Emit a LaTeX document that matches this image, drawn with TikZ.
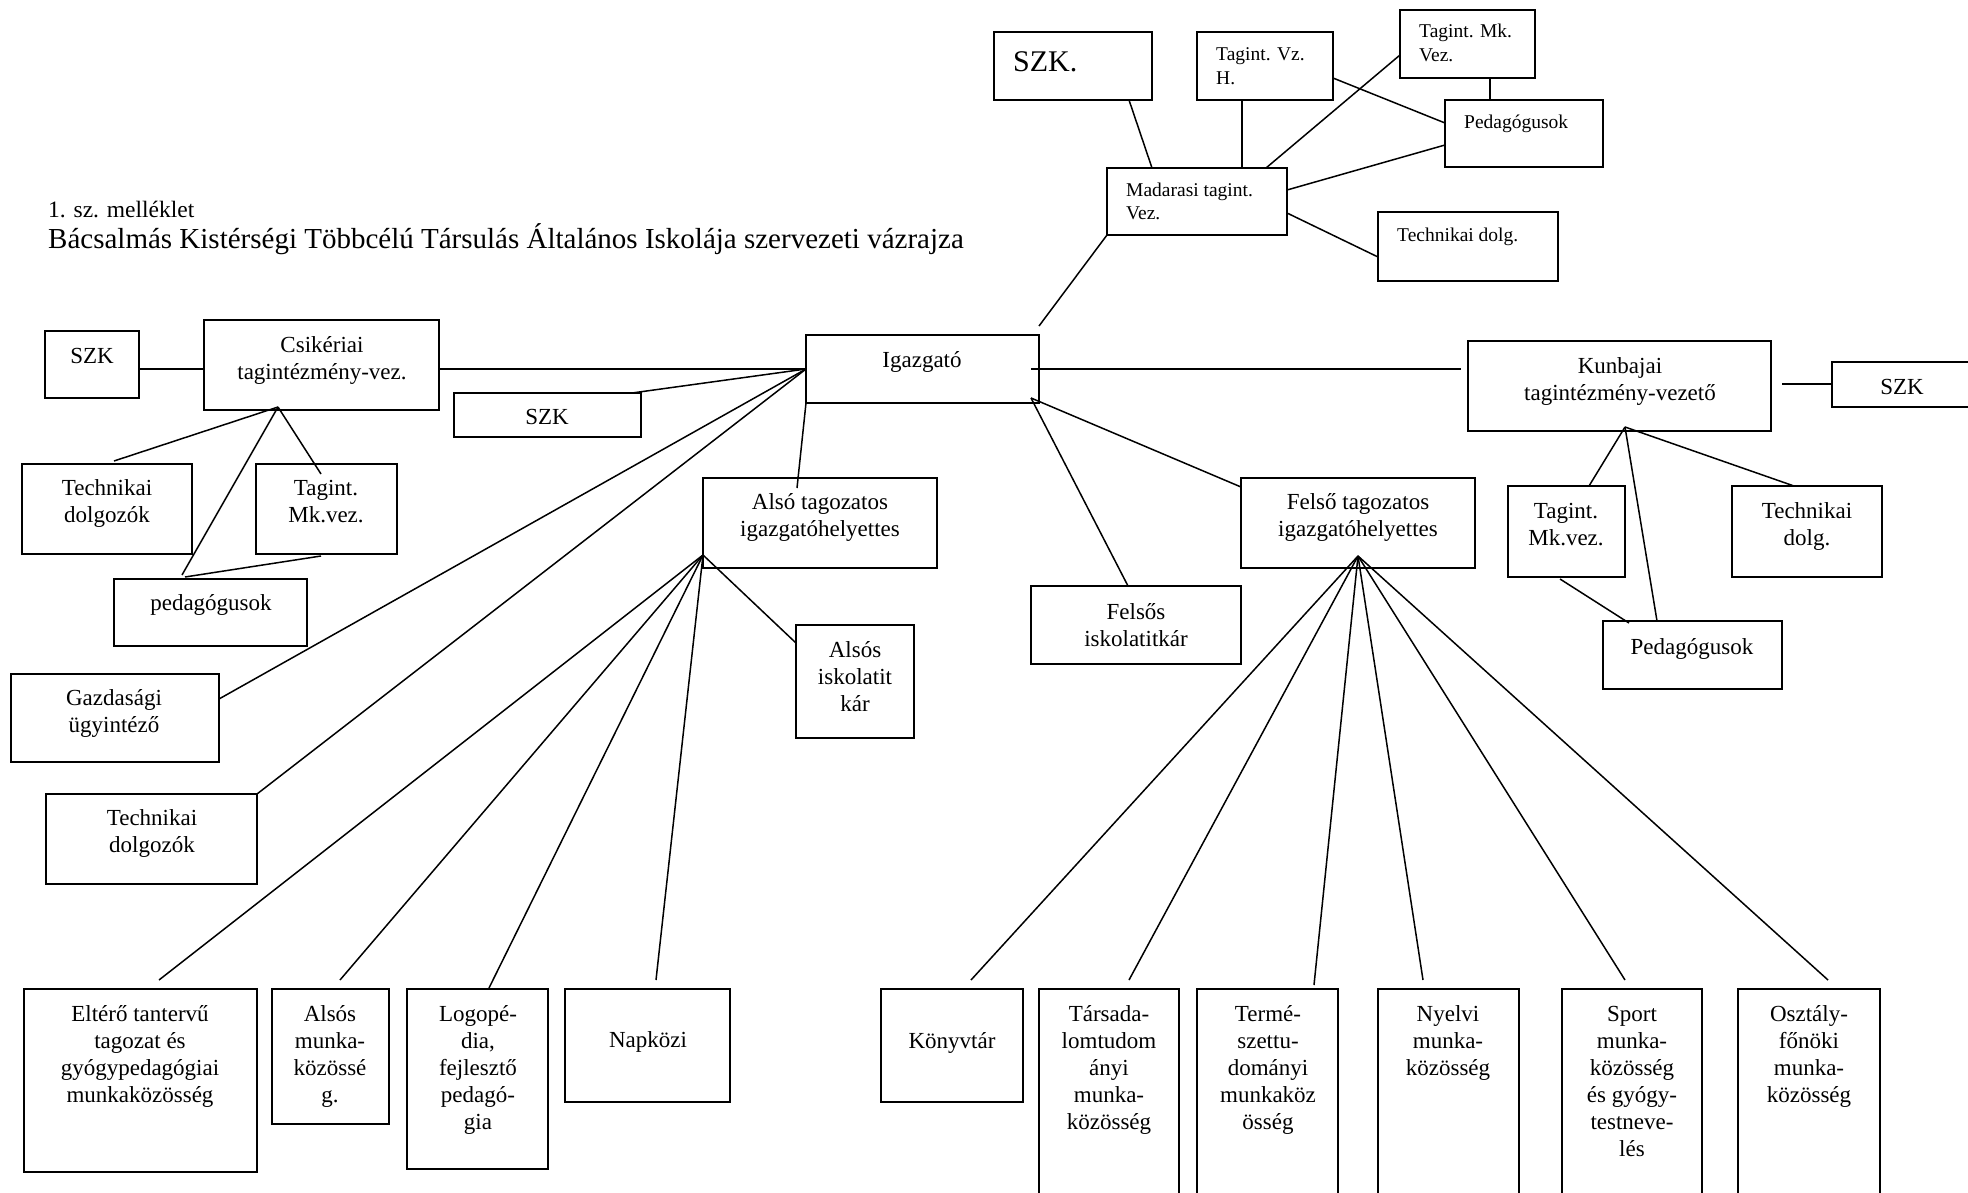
\documentclass[tikz,border=0pt]{standalone}
\usepackage{fontspec}
\setmainfont{Liberation Serif}
\newcommand\fmain{\fontsize{23}{27}\selectfont}
\newcommand\fsmall{\fontsize{19.5}{24}\selectfont}
\begin{document}
\begin{tikzpicture}[x=1pt,y=-1pt,
  bx/.style={draw, line width=2pt, inner sep=0pt, outer sep=0pt, anchor=north west},
  tm/.style={font=\fmain, align=center, inner sep=0pt, anchor=north},
  tsm/.style={font=\fsmall, align=left, inner sep=0pt, anchor=north west},
  ln/.style={line width=1.5pt}]
\useasboundingbox (0,0) rectangle (1968,1193);
\clip (0,0) rectangle (1968,1193);
% title
\node[font=\fontsize{23.5}{27}\selectfont, inner sep=0pt, anchor=base west] (sub) at (48,218) {1. sz. melléklet};
\node[font=\fontsize{29}{34}\selectfont, inner sep=0pt, anchor=base west] (title) at (48,248) {Bácsalmás Kistérségi Többcélú Társulás Általános Iskolája szervezeti vázrajza};
% boxes
\node[bx, minimum width=158pt, minimum height=68pt] (szkT) at (994,32) {};
\node[bx, minimum width=136pt, minimum height=68pt] (vzh) at (1197,32) {};
\node[bx, minimum width=135pt, minimum height=68pt] (mkv) at (1400,10) {};
\node[bx, minimum width=158pt, minimum height=67pt] (pedT) at (1445,100) {};
\node[bx, minimum width=180pt, minimum height=67pt] (mad) at (1107,168) {};
\node[bx, minimum width=180pt, minimum height=69pt] (techT) at (1378,212) {};
\node[bx, minimum width=94pt, minimum height=67pt] (szkL) at (45,331) {};
\node[bx, minimum width=235pt, minimum height=90pt] (csik) at (204,320) {};
\node[bx, minimum width=187pt, minimum height=44pt] (szkM) at (454,393) {};
\node[bx, minimum width=233pt, minimum height=68pt] (igz) at (806,335) {};
\node[bx, minimum width=303pt, minimum height=90pt] (kun) at (1468,341) {};
\node[bx, minimum width=200pt, minimum height=45pt] (szkR) at (1832,362) {};
\node[bx, minimum width=170pt, minimum height=90pt] (techC) at (22,464) {};
\node[bx, minimum width=141pt, minimum height=90pt] (mkC) at (256,464) {};
\node[bx, minimum width=193pt, minimum height=67pt] (pedC) at (114,579) {};
\node[bx, minimum width=208pt, minimum height=88pt] (gazd) at (11,674) {};
\node[bx, minimum width=211pt, minimum height=90pt] (techL) at (46,794) {};
\node[bx, minimum width=234pt, minimum height=90pt] (also) at (703,478) {};
\node[bx, minimum width=118pt, minimum height=113pt] (alsIsk) at (796,625) {};
\node[bx, minimum width=234pt, minimum height=90pt] (felso) at (1241,478) {};
\node[bx, minimum width=210pt, minimum height=78pt] (felsIsk) at (1031,586) {};
\node[bx, minimum width=117pt, minimum height=91pt] (mkK) at (1508,486) {};
\node[bx, minimum width=150pt, minimum height=91pt] (techK) at (1732,486) {};
\node[bx, minimum width=179pt, minimum height=68pt] (pedK) at (1603,621) {};
\node[bx, minimum width=233pt, minimum height=183pt] (elt) at (24,989) {};
\node[bx, minimum width=117pt, minimum height=135pt] (alsM) at (272,989) {};
\node[bx, minimum width=141pt, minimum height=180pt] (logo) at (407,989) {};
\node[bx, minimum width=165pt, minimum height=113pt] (napk) at (565,989) {};
\node[bx, minimum width=142pt, minimum height=113pt] (konyv) at (881,989) {};
\node[bx, minimum width=140pt, minimum height=250pt] (tars) at (1039,989) {};
\node[bx, minimum width=141pt, minimum height=250pt] (term) at (1197,989) {};
\node[bx, minimum width=141pt, minimum height=250pt] (nyelv) at (1378,989) {};
\node[bx, minimum width=140pt, minimum height=250pt] (sport) at (1562,989) {};
\node[bx, minimum width=142pt, minimum height=250pt] (oszt) at (1738,989) {};
% texts
\node[font=\fontsize{30}{34}\selectfont, inner sep=0pt, anchor=base west] (szkTt) at (1013,72) {SZK.};
\node[tsm] (vzht) at (1216,44) {\strut Tagint. Vz.\\\strut H.};
\node[tsm] (mkvt) at (1419,21) {\strut Tagint. Mk.\\\strut Vez.};
\node[tsm] (pedTt) at (1464,112) {\strut Pedagógusok};
\node[tsm] (madt) at (1126,179) {\strut Madarasi tagint.\\\strut Vez.};
\node[tsm] (techTt) at (1397,225) {\strut Technikai dolg.};
\node[tm] (csikt) at (322,333) {\strut Csikériai\\\strut tagintézmény-vez.};
\node[tm] (szkLt) at (92,344) {\strut SZK};
\node[tm] (szkMt) at (547,405) {\strut SZK};
\node[tm] (igzt) at (922,348) {\strut Igazgató};
\node[tm] (techCt) at (107,476) {\strut Technikai\\\strut dolgozók};
\node[tm] (mkCt) at (326,476) {\strut Tagint.\\\strut Mk.vez.};
\node[tm] (pedCt) at (211,591) {\strut pedagógusok};
\node[tm] (gazdt) at (114,686) {\strut Gazdasági\\\strut ügyintéző};
\node[tm] (techLt) at (152,806) {\strut Technikai\\\strut dolgozók};
\node[tm] (alsot) at (820,490) {\strut Alsó tagozatos\\\strut igazgatóhelyettes};
\node[tm] (alsIskt) at (855,638) {\strut Alsós\\\strut iskolatit\\\strut kár};
\node[tm] (felsot) at (1358,490) {\strut Felső tagozatos\\\strut igazgatóhelyettes};
\node[tm] (felsIskt) at (1136,600) {\strut Felsős\\\strut iskolatitkár};
\node[tm] (kunt) at (1620,354) {\strut Kunbajai\\\strut tagintézmény-vezető};
\node[tm] (szkRt) at (1902,375) {\strut SZK};
\node[tm] (mkKt) at (1566,499) {\strut Tagint.\\\strut Mk.vez.};
\node[tm] (techKt) at (1807,499) {\strut Technikai\\\strut dolg.};
\node[tm] (pedKt) at (1692,635) {\strut Pedagógusok};
\node[tm] (eltt) at (140,1002) {\strut Eltérő tantervű\\\strut tagozat és\\\strut gyógypedagógiai\\\strut munkaközösség};
\node[tm] (alsMt) at (330,1002) {\strut Alsós\\\strut munka-\\\strut közössé\\\strut g.};
\node[tm] (logot) at (478,1002) {\strut Logopé-\\\strut dia,\\\strut fejlesztő\\\strut pedagó-\\\strut gia};
\node[tm] (napkt) at (648,1028) {\strut Napközi};
\node[tm] (konyvt) at (952,1029) {\strut Könyvtár};
\node[tm] (tarst) at (1109,1002) {\strut Társada-\\\strut lomtudom\\\strut ányi\\\strut munka-\\\strut közösség};
\node[tm] (termt) at (1268,1002) {\strut Termé-\\\strut szettu-\\\strut dományi\\\strut munkaköz\\\strut össég};
\node[tm] (nyelvt) at (1448,1002) {\strut Nyelvi\\\strut munka-\\\strut közösség};
\node[tm] (sportt) at (1632,1002) {\strut Sport\\\strut munka-\\\strut közösség\\\strut és gyógy-\\\strut testneve-\\\strut lés};
\node[tm] (osztt) at (1809,1002) {\strut Osztály-\\\strut főnöki\\\strut munka-\\\strut közösség};
% connectors: top cluster
\draw[ln] ([shift={(135,0)}]szkT.south west) -- ([shift={(45,0)}]mad.north west);
\draw[ln] ([shift={(45,0)}]vzh.south west) -- ([shift={(135,0)}]mad.north west);
\draw[ln] ([shift={(159,0)}]mad.north west) -- ([shift={(0,45)}]mkv.north west);
\draw[ln] ([shift={(0,46)}]vzh.north east) -- ([shift={(0,23)}]pedT.north west);
\draw[ln] ([shift={(0,22)}]mad.north east) -- ([shift={(0,45)}]pedT.north west);
\draw[ln] ([shift={(0,45)}]mad.north east) -- ([shift={(0,45)}]techT.north west);
\draw[ln] ([shift={(90,0)}]mkv.south west) -- ([shift={(45,0)}]pedT.north west);
\draw[ln] (mad.south west) -- ([shift={(0,-9)}]igz.north east);
% Igazgato left
\draw[ln] ([shift={(0,49)}]csik.north east) -- (igz.west);
\draw[ln] ([shift={(0,38)}]szkL.north east) -- ([shift={(0,49)}]csik.north west);
\draw[ln] ([shift={(-9,0)}]szkM.north east) -- (igz.west);
\draw[ln] ([shift={(0,25)}]gazd.north east) -- (igz.west);
\draw[ln] (techL.north east) -- (igz.west);
\draw[ln] (igz.south west) -- ([shift={(94,10)}]also.north west);
% Igazgato right
\draw[ln] ([shift={(-8,0)}]igz.east) -- ([shift={(-7,28)}]kun.north west);
\draw[ln] ([shift={(11,43)}]kun.north east) -- ([shift={(0,22)}]szkR.north west);
\draw[ln] ([shift={(-8,-5)}]igz.south east) -- ([shift={(0,9)}]felso.north west);
\draw[ln] ([shift={(-8,-5)}]igz.south east) -- ([shift={(97,0)}]felsIsk.north west);
% Kunbaja
\coordinate (kf) at ([shift={(157,86)}]kun.north west);
\draw[ln] (kf) -- ([shift={(81,0)}]mkK.north west);
\draw[ln] (kf) -- ([shift={(54,0)}]pedK.north west);
\draw[ln] (kf) -- ([shift={(62,0)}]techK.north west);
\draw[ln] ([shift={(52,2)}]mkK.south west) -- ([shift={(26,2)}]pedK.north west);
% Csikeria
\coordinate (cf) at ([shift={(74,87)}]csik.north west);
\draw[ln] (cf) -- ([shift={(92,-3)}]techC.north west);
\draw[ln] (cf) -- ([shift={(65,10)}]mkC.north west);
\draw[ln] (cf) -- ([shift={(68,-4)}]pedC.north west);
\draw[ln] ([shift={(65,2)}]mkC.south west) -- ([shift={(71,-2)}]pedC.north west);
% Also fan
\coordinate (af) at ([shift={(0,77)}]also.north west);
\draw[ln] (af) -- ([shift={(135,-9)}]elt.north west);
\draw[ln] (af) -- ([shift={(68,-9)}]alsM.north west);
\draw[ln] (af) -- ([shift={(82,-1)}]logo.north west);
\draw[ln] (af) -- ([shift={(91,-9)}]napk.north west);
\draw[ln] (af) -- ([shift={(0,18)}]alsIsk.north west);
% Felso fan
\coordinate (ff) at ([shift={(117,78)}]felso.north west);
\draw[ln] (ff) -- ([shift={(90,-9)}]konyv.north west);
\draw[ln] (ff) -- ([shift={(90,-9)}]tars.north west);
\draw[ln] (ff) -- ([shift={(117,-4)}]term.north west);
\draw[ln] (ff) -- ([shift={(45,-9)}]nyelv.north west);
\draw[ln] (ff) -- ([shift={(63,-9)}]sport.north west);
\draw[ln] (ff) -- ([shift={(90,-9)}]oszt.north west);
\end{tikzpicture}
\end{document}
